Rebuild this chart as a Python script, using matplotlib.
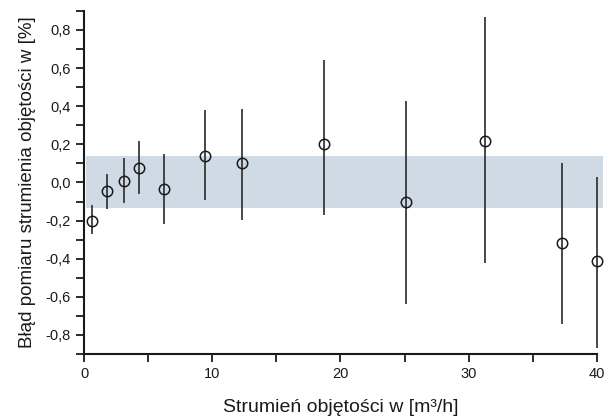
import matplotlib

matplotlib.use("Agg")
import matplotlib.pyplot as plt
from matplotlib.ticker import FuncFormatter, MultipleLocator

# volume flow [m3/h] and measurement error [%] with its spread
flow = [0.6, 1.8, 3.1, 4.3, 6.25, 9.4, 12.3, 18.75, 25.1, 31.25, 37.3, 40.0]
error = [-0.20, -0.045, 0.01, 0.077, -0.033, 0.14, 0.103, 0.20, -0.10, 0.22, -0.32, -0.41]
err_up = [0.08, 0.09, 0.12, 0.14, 0.185, 0.24, 0.28, 0.44, 0.53, 0.65, 0.42, 0.44]
err_down = [0.07, 0.095, 0.12, 0.14, 0.185, 0.23, 0.30, 0.37, 0.54, 0.64, 0.42, 0.46]

band_lo, band_hi = -0.135, 0.14

plt.rcParams["font.family"] = ["Liberation Sans", "DejaVu Sans"]

fig = plt.figure(figsize=(6.09, 4.2), dpi=100)
ax = fig.add_axes([0.138, 0.157, 0.842, 0.817])

ax.axhspan(band_lo, band_hi, xmin=0.004, xmax=1.012, color="#d0dae4", lw=0, zorder=0, clip_on=False)

ax.errorbar(flow, error, yerr=[err_down, err_up], fmt="none", ecolor="#2a2a2a",
            elinewidth=1.2, capsize=0, zorder=2, clip_on=False)
ax.plot(flow, error, "o", ms=7.5, mfc="none", mec="#1a1a1a", mew=1.1, zorder=3, clip_on=False)

ax.set_xlim(0, 40)
ax.set_ylim(-0.9, 0.9)
ax.xaxis.set_major_locator(MultipleLocator(10))
ax.xaxis.set_minor_locator(MultipleLocator(5))
ax.yaxis.set_major_locator(MultipleLocator(0.2))
ax.yaxis.set_minor_locator(MultipleLocator(0.1))
ax.yaxis.set_major_formatter(FuncFormatter(lambda v, p: f"{v:.1f}".replace(".", ",").replace("-0,0", "0,0")))

for side in ("top", "right"):
    ax.spines[side].set_visible(False)
for side in ("left", "bottom"):
    ax.spines[side].set_linewidth(1.5)
    ax.spines[side].set_color("#1a1a1a")
ax.tick_params(which="both", direction="out", width=1.3, colors="#1a1a1a", labelsize=10.5)
ax.tick_params(which="major", length=6)
ax.tick_params(which="minor", length=6)

ax.set_xlabel("Strumień objętości w [m³/h]", fontsize=14, labelpad=13, color="#1a1a1a")
ax.set_ylabel("Błąd pomiaru strumienia objętości w [%]", fontsize=13.5, labelpad=7, color="#1a1a1a")

fig.savefig("out.png", dpi=100)
